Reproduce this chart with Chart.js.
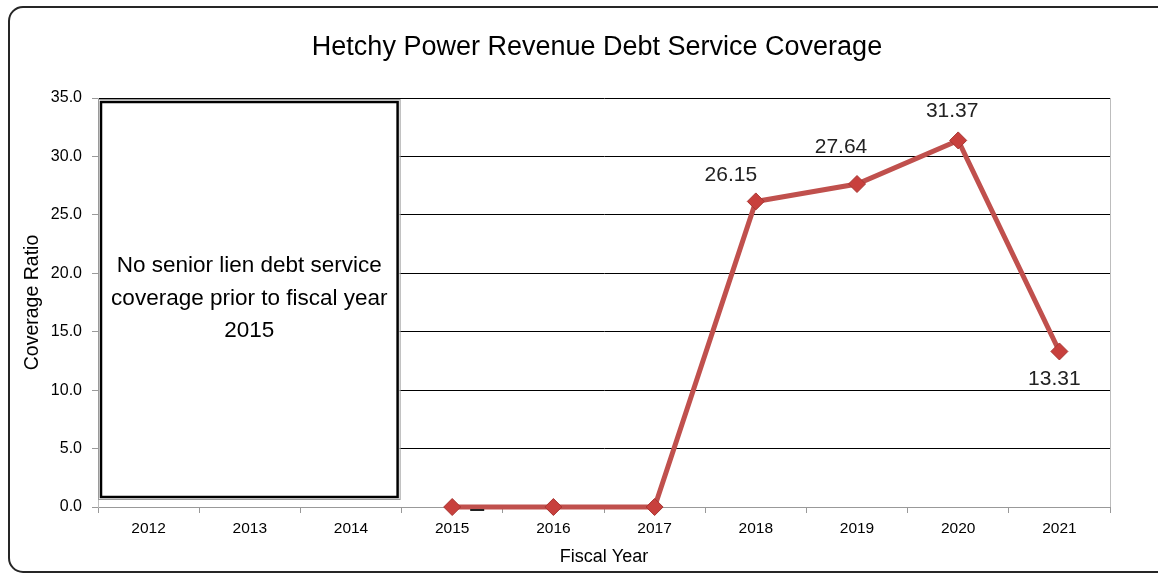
<!DOCTYPE html>
<html>
<head>
<meta charset="utf-8">
<script src="https://cdn.jsdelivr.net/npm/chart.js@4.4.1/dist/chart.umd.min.js"></script>
<style>
  html, body { margin: 0; padding: 0; background: #ffffff; }
  #wrap { width: 1158px; height: 573px; position: relative; }
</style>
</head>
<body>
<div id="wrap"><canvas id="c" width="1158" height="573"></canvas></div>
<script>
// Fiscal years on the category axis
const fiscalYears = ['2012', '2013', '2014', '2015', '2016', '2017', '2018', '2019', '2020', '2021'];
// Senior lien coverage ratio (no coverage before FY2015)
const coverageRatio = [null, null, null, 0, 0, 0, 26.15, 27.64, 31.37, 13.31];
// Value labels shown next to points ('' = no label)
const pointLabels = ['', '', '', '-', '', '', '26.15', '27.64', '31.37', '13.31'];
// Y-axis range and step
const yMin = 0, yMax = 35, yStep = 5;

const chartTitle = 'Hetchy Power Revenue Debt Service Coverage';
const noteLines = ['No senior lien debt service', 'coverage prior to fiscal year', '2015'];

const FONT = '"Liberation Sans", Arial, sans-serif';
const LINE_RED = '#C0504D';

// label offsets relative to each point (pixels)
const labelOffsets = {
  3: [25, 0], 6: [-25, -26], 7: [-16, -37], 8: [-6, -29], 9: [-5, 28]
};

const decorPlugin = {
  id: 'decor',
  beforeDraw(chart) {
    const ctx = chart.ctx;
    ctx.save();
    ctx.fillStyle = '#fff';
    ctx.fillRect(0, 0, chart.width, chart.height);
    // outer rounded frame
    ctx.strokeStyle = '#262626';
    ctx.lineWidth = 2;
    ctx.beginPath();
    ctx.roundRect(9, 7, 1200, 565, 14);
    ctx.stroke();
    // title
    ctx.fillStyle = '#000';
    ctx.font = '27px ' + FONT;
    ctx.textAlign = 'center';
    ctx.textBaseline = 'middle';
    ctx.fillText(chartTitle, 597, 48);
    ctx.restore();
  },
  afterDatasetsDraw(chart) {
    const ctx = chart.ctx;
    const area = chart.chartArea;
    const x = chart.scales.x;
    ctx.save();
    // right edge of plot area
    ctx.strokeStyle = '#bdbdbd';
    ctx.lineWidth = 1;
    ctx.beginPath();
    ctx.moveTo(Math.round(area.right) + 0.5, area.top);
    ctx.lineTo(Math.round(area.right) + 0.5, area.bottom);
    ctx.stroke();

    // note box over the years without coverage
    const bx = x.getPixelForValue(0) - x.width / 20 + 3;
    const bx2 = x.getPixelForValue(2) + x.width / 20 - 4;
    const by = area.top + 4;
    const by2 = area.bottom - 10;
    ctx.fillStyle = '#fff';
    ctx.fillRect(bx - 2, by - 2, bx2 - bx + 4, by2 - by + 4);
    ctx.strokeStyle = '#9a9a9a';
    ctx.lineWidth = 1;
    ctx.strokeRect(bx - 2.5, by - 2.5, bx2 - bx + 5, by2 - by + 5);
    ctx.strokeStyle = '#000';
    ctx.lineWidth = 2.5;
    ctx.strokeRect(bx, by, bx2 - bx, by2 - by);
    ctx.fillStyle = '#000';
    ctx.font = '22.5px ' + FONT;
    ctx.textAlign = 'center';
    ctx.textBaseline = 'middle';
    const cx = (bx + bx2) / 2;
    noteLines.forEach((t, i) => ctx.fillText(t, cx, 266 + i * 32.5));

    // point value labels
    const meta = chart.getDatasetMeta(0);
    ctx.font = '21px ' + FONT;
    pointLabels.forEach((lab, i) => {
      if (!lab) return;
      const el = meta.data[i];
      const off = labelOffsets[i] || [0, -20];
      if (lab === '-') {
        ctx.fillStyle = '#222';
        ctx.fillRect(el.x + off[0] - 7, el.y + 2, 14, 2);
      } else {
        ctx.fillText(lab, el.x + off[0], el.y + off[1]);
      }
    });
    ctx.restore();
  }
};

new Chart(document.getElementById('c'), {
  type: 'line',
  data: {
    labels: fiscalYears,
    datasets: [{
      data: coverageRatio,
      borderColor: LINE_RED,
      borderWidth: 5,
      tension: 0,
      spanGaps: false,
      pointStyle: 'rectRot',
      pointRadius: 8.5,
      pointBackgroundColor: '#C8403D',
      pointBorderColor: '#A83532',
      pointBorderWidth: 1,
      clip: false
    }]
  },
  options: {
    responsive: false,
    animation: false,
    events: [],
    layout: { padding: { left: 21, right: 48, top: 98, bottom: 5 } },
    plugins: { legend: { display: false }, tooltip: { enabled: false }, title: { display: false } },
    scales: {
      x: {
        offset: true,
        grid: {
          offset: true,
          drawOnChartArea: false,
          drawTicks: true,
          tickLength: 6,
          color: '#999'
        },
        border: { display: true, color: '#999', width: 1 },
        ticks: {
          color: '#000',
          font: { family: FONT, size: 15.5 },
          padding: 6,
          maxRotation: 0
        },
        title: {
          display: true,
          text: 'Fiscal Year',
          color: '#000',
          font: { family: FONT, size: 18 },
          padding: { top: 0, bottom: 0 }
        },
        afterFit(s) { s.height = 61; }
      },
      y: {
        min: yMin,
        max: yMax,
        grid: {
          color: ctx => (ctx.tick && ctx.tick.value === 0) ? '#999' : '#000',
          lineWidth: 1,
          tickLength: 6,
          tickColor: '#999'
        },
        border: { display: true, color: '#bdbdbd', width: 1 },
        ticks: {
          stepSize: yStep,
          color: '#000',
          font: { family: FONT, size: 16 },
          padding: 10,
          callback: v => Number(v).toFixed(1)
        },
        title: {
          display: true,
          text: 'Coverage Ratio',
          color: '#000',
          font: { family: FONT, size: 19.5 },
          padding: { top: 0, bottom: 0 }
        },
        afterFit(s) { s.width = 77; }
      }
    }
  },
  plugins: [decorPlugin]
});
</script>
</body>
</html>
